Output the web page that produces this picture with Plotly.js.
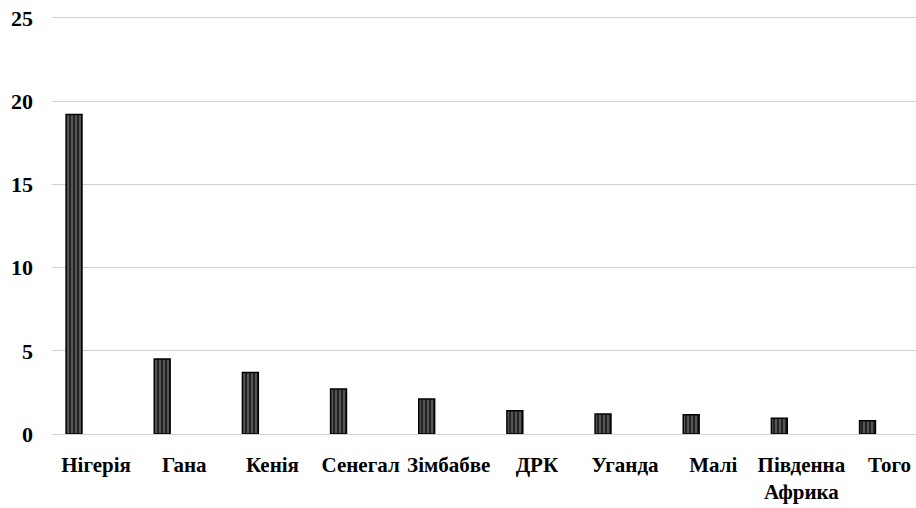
<!DOCTYPE html>
<html>
<head>
<meta charset="utf-8">
<script src="https://cdn.plot.ly/plotly-3.0.1.min.js"></script>
<style>html,body{margin:0;padding:0;background:#fff;}#chart{width:916px;height:508px;}</style>
</head>
<body>
<div id="chart"></div>
<script>
const categories = ["Нігерія", "Гана", "Кенія", "Сенегал", "Зімбабве", "ДРК", "Уганда", "Малі", "Південна<br>Африка", "Того"];
const values = [19.2, 4.5, 3.7, 2.7, 2.1, 1.4, 1.2, 1.15, 0.95, 0.8];
const yTicks = [0, 5, 10, 15, 20, 25];

const trace = {
  type: 'bar',
  x: categories,
  y: values,
  width: 0.18,
  offset: -0.34,
  marker: {
    color: '#4a4a4a',
    line: {color: '#000', width: 1.5},
    pattern: {shape: '|', size: 4, solidity: 0.45, fgcolor: '#1e1e1e', bgcolor: '#555555'}
  },
  hoverinfo: 'none'
};

const fam = '"Liberation Serif", "Times New Roman", serif';

const layout = {
  width: 916, height: 508,
  margin: {l: 52, r: 0, t: 12.5, b: 74},
  paper_bgcolor: '#fff', plot_bgcolor: '#fff',
  showlegend: false,
  font: {family: fam, size: 21, color: '#000'},
  bargap: 0,
  xaxis: {
    type: 'category',
    range: [-0.5, 9.3],
    showgrid: false, zeroline: false, showline: false,
    ticks: '', ticklabelstandoff: 16,
    tickfont: {family: fam, size: 21, color: '#000', weight: 'bold'}
  },
  yaxis: {
    range: [0, 25.3],
    tickvals: yTicks,
    ticktext: yTicks.map(String),
    showgrid: true, gridcolor: '#d0d0d0', gridwidth: 1,
    zeroline: true, zerolinecolor: '#d0d0d0', zerolinewidth: 1,
    showline: false, ticks: '', ticklabelstandoff: 18,
    tickfont: {family: fam, size: 22, color: '#000', weight: 'bold'}
  }
};

Plotly.newPlot('chart', [trace], layout, {staticPlot: true, displayModeBar: false});
</script>
</body>
</html>
